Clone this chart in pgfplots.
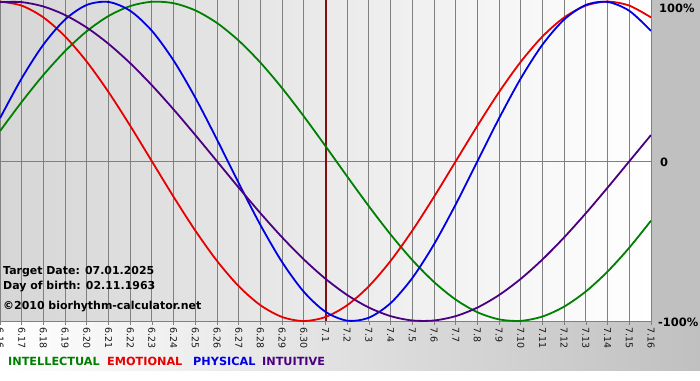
\documentclass[border=0pt]{standalone}
\usepackage{fontspec}
\setmainfont{DejaVu Sans}
\usepackage{pgfplots}
\usepackage{pgfplotstable}
\pgfplotsset{compat=1.18}
\definecolor{cint}{RGB}{0,128,0}
\definecolor{cemo}{RGB}{230,0,0}
\definecolor{cphy}{RGB}{0,0,230}
\definecolor{cintu}{RGB}{75,0,130}
\definecolor{cgbg}{RGB}{192,192,192}
\definecolor{cplotl}{RGB}{214,214,214}
\definecolor{ctarget}{RGB}{128,16,16}
\definecolor{cgrid}{RGB}{128,128,128}

\pgfplotstableread{
d intel emo phys intu
0 0.1893 1 0.2698 0.9966
1 0.3717 0.9749 0.5196 0.9966
2 0.5406 0.9010 0.7308 0.9694
3 0.6901 0.7818 0.8879 0.9158
4 0.8146 0.6235 0.9791 0.8372
5 0.9096 0.4339 0.9977 0.7357
6 0.9718 0.2225 0.9423 0.6142
7 0.9989 0 0.8170 0.4759
8 0.9898 -0.2225 0.6310 0.3247
9 0.9450 -0.4339 0.3984 0.1646
10 0.8660 -0.6235 0.1362 0
11 0.7557 -0.7818 -0.1362 -0.1646
12 0.6182 -0.9010 -0.3984 -0.3247
13 0.4582 -0.9749 -0.6310 -0.4759
14 0.2817 -1 -0.8170 -0.6142
15 0.0951 -0.9749 -0.9423 -0.7357
16 -0.0951 -0.9010 -0.9977 -0.8372
17 -0.2817 -0.7818 -0.9791 -0.9158
18 -0.4582 -0.6235 -0.8879 -0.9694
19 -0.6182 -0.4339 -0.7308 -0.9966
20 -0.7557 -0.2225 -0.5196 -0.9966
21 -0.8660 0 -0.2698 -0.9694
22 -0.9450 0.2225 0 -0.9158
23 -0.9898 0.4339 0.2698 -0.8372
24 -0.9989 0.6235 0.5196 -0.7357
25 -0.9718 0.7818 0.7308 -0.6142
26 -0.9096 0.9010 0.8879 -0.4759
27 -0.8146 0.9749 0.9791 -0.3247
28 -0.6901 1 0.9977 -0.1646
29 -0.5406 0.9749 0.9423 0
30 -0.3717 0.9010 0.8170 0.1646
}\bio

\begin{document}
\begin{tikzpicture}[x=1bp,y=1bp]
\fill[white] (0,0) rectangle (700,-380);
\shade[left color=white, right color=cgbg] (0,-321) rectangle (700,-370);
\fill[cgbg] (651,0) rectangle (700,-321);
\begin{axis}[
  at={(0bp,-321bp)}, anchor=south west,
  scale only axis, width=651bp, height=321bp,
  xmin=0, xmax=30, ymin=-1, ymax=1.01,
  axis background/.style={left color=cplotl, right color=white},
  axis line style={draw=none},
  xtick={0,...,30},
  xticklabels={6.16,6.17,6.18,6.19,6.20,6.21,6.22,6.23,6.24,6.25,6.26,6.27,6.28,6.29,6.30,7.1,7.2,7.3,7.4,7.5,7.6,7.7,7.8,7.9,7.10,7.11,7.12,7.13,7.14,7.15,7.16},
  x tick label style={rotate=-90, anchor=west, font=\fontsize{9.5}{10}\selectfont, text=black!90, inner xsep=2bp},
  ytick={-1,0}, yticklabels={},
  ytick style={draw=none},
  xtick style={draw=cgrid, line width=0.8bp},
  tick align=outside, major tick length=4bp,
  xmajorgrids, ymajorgrids,
  grid style={cgrid, line width=0.9bp},
  /pgf/number format/assume math mode=true,
  clip=true,
]
\addplot[ctarget, line width=2bp] coordinates {(15,-1) (15,1.01)};
\addplot[cint, line width=1.8bp, smooth] table[x=d, y=intel] {\bio};
\addplot[cemo, line width=1.8bp, smooth] table[x=d, y=emo] {\bio};
\addplot[cphy, line width=1.8bp, smooth] table[x=d, y=phys] {\bio};
\addplot[cintu, line width=1.8bp, smooth] table[x=d, y=intu] {\bio};
\end{axis}
\begin{scope}[every node/.style={inner sep=0pt, font=\bfseries\fontsize{11}{13}\selectfont}]
\node[anchor=west] at (3,-272) {Target Date: 07.01.2025};
\node[anchor=west] at (3,-287) {Day of birth: 02.11.1963};
\node[anchor=west] at (3,-307) {©2010 biorhythm-calculator.net};
\node[anchor=west, font=\bfseries\fontsize{11.5}{13}\selectfont] at (659,-8) {100\%};
\node[anchor=west, font=\bfseries\fontsize{11.5}{13}\selectfont] at (660,-162) {0};
\node[anchor=west, font=\bfseries\fontsize{11.5}{13}\selectfont] at (658,-322) {-100\%};
\node[anchor=west, text=cint, font=\bfseries\fontsize{11.3}{13}\selectfont] at (8,-361) {INTELLECTUAL};
\node[anchor=west, text=cemo, font=\bfseries\fontsize{11.3}{13}\selectfont] at (107,-361) {EMOTIONAL};
\node[anchor=west, text=cphy, font=\bfseries\fontsize{11.3}{13}\selectfont] at (193,-361) {PHYSICAL};
\node[anchor=west, text=cintu, font=\bfseries\fontsize{11.3}{13}\selectfont] at (262,-361) {INTUITIVE};
\end{scope}
\pgfresetboundingbox
\useasboundingbox (0,0) rectangle (700,-380);
\end{tikzpicture}
\end{document}
